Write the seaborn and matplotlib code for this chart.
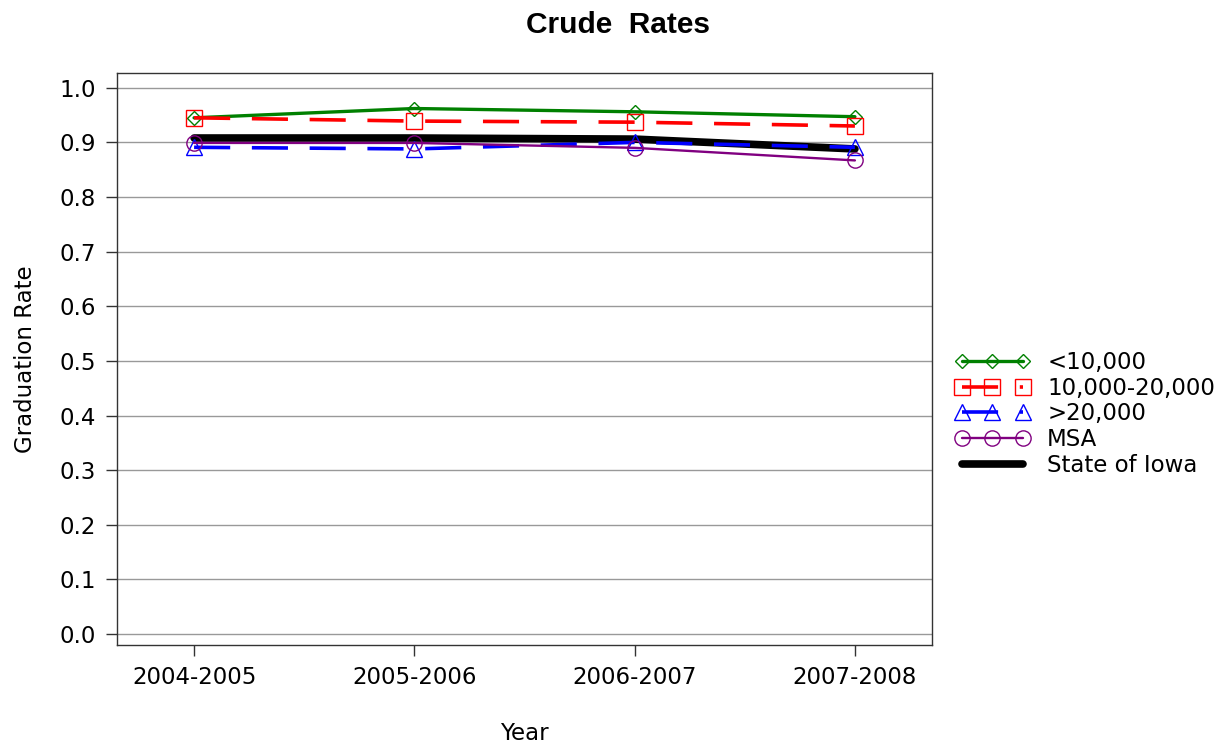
import matplotlib
matplotlib.use("Agg")
import matplotlib.pyplot as plt
import seaborn as sns
import pandas as pd
from matplotlib import font_manager

years = ["2004-2005", "2005-2006", "2006-2007", "2007-2008"]
lt10k = [0.945, 0.962, 0.956, 0.947]
mid = [0.945, 0.939, 0.937, 0.930]
gt20k = [0.891, 0.888, 0.900, 0.891]
msa = [0.899, 0.899, 0.890, 0.867]
iowa = [0.908, 0.908, 0.906, 0.888]
yticks = [0.0, 0.1, 0.2, 0.3, 0.4, 0.5, 0.6, 0.7, 0.8, 0.9, 1.0]

series = [
    ("<10,000", lt10k, "green", "D", None, 2.4, 7),
    ("10,000-20,000", mid, "red", "s", (10, 6), 2.6, 11),
    (">20,000", gt20k, "blue", "^", (10, 6), 2.6, 11),
    ("MSA", msa, "purple", "o", None, 1.7, 11),
    ("State of Iowa", iowa, "black", None, None, 5.5, 0),
]

sns.set_theme(style="white")
plt.rcParams['font.family'] = ['DejaVu Sans']
plt.rcParams['text.color'] = 'black'
plt.rcParams['axes.labelcolor'] = 'black'
plt.rcParams['xtick.color'] = 'black'
plt.rcParams['ytick.color'] = 'black'

fig = plt.figure(figsize=(12.23, 7.51), dpi=100)
ax = fig.add_axes([117/1223, 1-645/751, (932-117)/1223, (645-73)/751])

for name, vals, col, mk, dash, lw, ms in series:
    df = pd.DataFrame({"x": range(len(years)), "y": vals})
    sns.lineplot(data=df, x="x", y="y", ax=ax, color=col, linewidth=lw,
                 marker=mk if mk else None, markersize=ms,
                 markerfacecolor="none", markeredgecolor=col, markeredgewidth=1.0,
                 label=name, zorder=3 if name != "State of Iowa" else 2)
    line = ax.get_lines()[-1]
    if dash:
        line.set_dashes(dash)

ax.set_xlim(-0.35, 3.35)
ax.set_ylim(-0.02, 1.027)
ax.set_xticks(range(len(years)))
ax.set_xticklabels(years, fontsize=16.5)
ax.set_yticks(yticks)
ax.set_yticklabels([f"{v:.1f}" for v in yticks], fontsize=16.5)
ax.yaxis.grid(True, color="#999999", linewidth=1)
ax.set_axisbelow(True)
for s in ax.spines.values():
    s.set_color("#333333")
    s.set_linewidth(1)
ax.tick_params(axis="both", direction="out", length=8, width=1, color="#333333",
               bottom=True, left=True, pad=7)
ax.set_xlabel("Year", fontsize=16.5, labelpad=24)
ax.set_ylabel("Graduation Rate", fontsize=16.5, labelpad=16)

avail = {f.name for f in font_manager.fontManager.ttflist}
tfam = "Liberation Sans Narrow" if "Liberation Sans Narrow" in avail else "Liberation Sans"
fig.text(618/1223, 1-25/751, "Crude  Rates", ha="center", va="center",
         fontsize=23 if tfam.endswith("Narrow") else 21.5, fontweight="bold", family=tfam)

ax.legend(loc="center left", bbox_to_anchor=(1.017, 0.404), frameon=False,
          fontsize=16.5, numpoints=3, handlelength=3.27, handletextpad=0.75,
          labelspacing=0.12, borderaxespad=0)

fig.savefig("out.png", dpi=100, facecolor="white")
